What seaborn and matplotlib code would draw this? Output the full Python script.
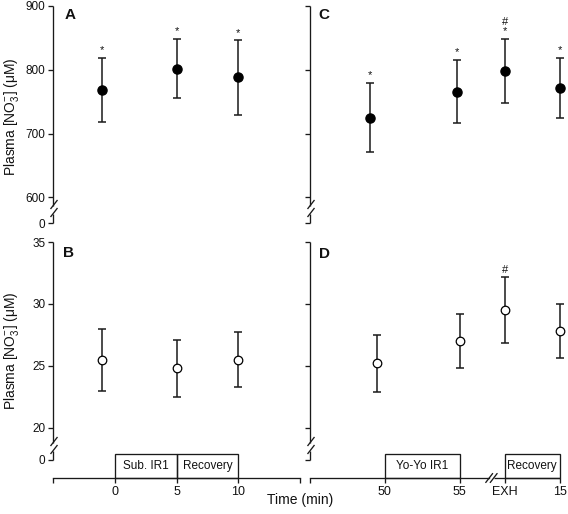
import matplotlib
matplotlib.use('Agg')
import matplotlib.pyplot as plt
import seaborn as sns
from matplotlib.patches import Rectangle

# values (mean +/- SD)
pre_time = [-1, 5, 10]
a_mean = [768, 802, 788]
a_sd = [50, 46, 58]
a_sig = ['*', '*', '*']
b_mean = [25.5, 24.8, 25.5]
b_sd = [2.5, 2.3, 2.2]
b_sig = ['', '', '']

c_time = [49.0, 54.8, 58.0, 61.7]
c_mean = [725, 766, 798, 772]
c_sd = [54, 50, 50, 47]
c_sig = ['*', '*', '#\n*', '*']
d_time = [49.5, 55.0, 58.0, 61.7]
d_mean = [25.2, 27.0, 29.5, 27.8]
d_sd = [2.3, 2.2, 2.65, 2.2]
d_sig = ['', '', '#', '']

left_ticks = [0, 5, 10]
left_ticklabels = ['0', '5', '10']
right_ticks = [50, 55, 58.0, 61.7]
right_ticklabels = ['50', '55', 'EXH', '15']
left_phases = [('Sub. IR1', 0, 5), ('Recovery', 5, 10)]
right_phases = [('Yo-Yo IR1', 50, 55), ('Recovery', 58.0, 61.7)]

top_ticks = [560, 600, 700, 800, 900]
top_ticklabels = ['0', '600', '700', '800', '900']
bot_ticks = [17.4, 20, 25, 30, 35]
bot_ticklabels = ['0', '20', '25', '30', '35']

sns.set_style('ticks')
plt.rcParams['font.family'] = ['Liberation Sans', 'DejaVu Sans']

W, H = 568, 514
LINE = '#1a1a1a'
LW = 0.95

fig = plt.figure(figsize=(W / 100, H / 100), dpi=100)


def px_axes(l, t, r, b):
    ax = fig.add_axes([l / W, 1 - b / H, (r - l) / W, (b - t) / H])
    ax.set_facecolor('none')
    return ax, r - l, b - t


def style_panel(ax, w, h, xlim, ylim, ticks, labels):
    ax.set_xlim(xlim)
    ax.set_ylim(ylim)
    ax.set_yticks(ticks)
    ax.set_yticklabels(labels)
    ax.set_xticks([])
    for s in ['top', 'right', 'bottom', 'left']:
        ax.spines[s].set_visible(False)
    ax.tick_params(axis='y', direction='out', length=3.5, width=LW, color=LINE,
                   labelsize=8.5, pad=2, labelcolor='#111')
    # broken y spine
    kw = dict(transform=ax.transAxes, color=LINE, lw=LW, clip_on=False, solid_capstyle='butt')
    ax.plot([0, 0], [0, 9.2 / h], **kw)
    ax.plot([0, 0], [17.2 / h, 1], **kw)
    for y0 in (6, 14):
        ax.plot([-2.5 / w, 4.5 / w], [y0 / h, (y0 + 9) / h], **kw)


def draw_points(ax, x, mean, sd, sig, filled):
    ax.errorbar(x, mean, yerr=sd, fmt='none', ecolor=LINE, elinewidth=1.1,
                capsize=3, capthick=1.1, zorder=3, clip_on=False)
    sns.scatterplot(x=x, y=mean, ax=ax, s=44 if filled else 38,
                    color='black' if filled else 'white', edgecolor='black',
                    linewidth=0.9, zorder=4, clip_on=False, legend=False)
    for xi, m, e, t in zip(x, mean, sd, sig):
        if t:
            ax.annotate(t, (xi, m + e), xytext=(0, 2), textcoords='offset points',
                        ha='center', va='bottom', fontsize=8, linespacing=0.95,
                        color='#111')


def style_strip(ax, xlim, ticks, labels, minor, phases):
    ax.set_xlim(xlim)
    ax.set_ylim(0, 1)
    ax.set_yticks([])
    for s in ['top', 'right', 'left']:
        ax.spines[s].set_visible(False)
    ax.spines['bottom'].set_color(LINE)
    ax.spines['bottom'].set_linewidth(LW)
    ax.set_xticks(ticks)
    ax.set_xticklabels(labels)
    ax.set_xticks(minor, minor=True)
    ax.tick_params(axis='x', which='both', direction='out', length=3.5, width=LW,
                   color=LINE, labelsize=9, pad=2, labelcolor='#111')
    for name, x0, x1 in phases:
        ax.add_patch(Rectangle((x0, 0), x1 - x0, 1, fill=False, ec=LINE, lw=LW, clip_on=False))
        ax.text((x0 + x1) / 2, 0.5, name, ha='center', va='center', fontsize=8.5, color='#111')


left_xlim = (-5, 15)
right_xlim = (45, 61.7)

# panel A
axA, w, h = px_axes(53, 6, 300, 223)
style_panel(axA, w, h, left_xlim, (560, 900), top_ticks, top_ticklabels)
draw_points(axA, pre_time, a_mean, a_sd, a_sig, True)

# panel B
axB, w, h = px_axes(53, 242, 300, 460)
style_panel(axB, w, h, left_xlim, (17.4, 35), bot_ticks, bot_ticklabels)
draw_points(axB, pre_time, b_mean, b_sd, b_sig, False)

# panel C
axC, w, h = px_axes(310, 6, 560, 223)
style_panel(axC, w, h, right_xlim, (560, 900), top_ticks, [''] * len(top_ticks))
draw_points(axC, c_time, c_mean, c_sd, c_sig, True)

# panel D
axD, w, h = px_axes(310, 242, 560, 460)
style_panel(axD, w, h, right_xlim, (17.4, 35), bot_ticks, [''] * len(bot_ticks))
draw_points(axD, d_time, d_mean, d_sd, d_sig, False)

# time axes with exercise phases
axL, w, h = px_axes(53, 454, 300, 478)
style_strip(axL, left_xlim, left_ticks, left_ticklabels, [-5, 15], left_phases)

axR, w, h = px_axes(310, 454, 560, 478)
style_strip(axR, right_xlim, right_ticks, right_ticklabels, [45], right_phases)
axR.spines['bottom'].set_bounds(45, 56.95)
tr = axR.get_xaxis_transform()
axR.plot([57.3, 61.7], [0, 0], transform=tr, color=LINE, lw=LW, clip_on=False,
         solid_capstyle='butt')
for xc in (56.97, 57.27):
    axR.plot([xc - 0.23, xc + 0.23], [-4.5 / h, 4.5 / h], transform=tr, color=LINE,
             lw=LW, clip_on=False)

# labels
for txt, x, y in [('A', 70, 15), ('B', 69, 253), ('C', 324, 15), ('D', 325, 254)]:
    fig.text(x / W, 1 - y / H, txt, ha='center', va='center', fontsize=11,
             fontweight='bold', color='#111')

for yc in (117, 351):
    fig.text(12 / W, 1 - yc / H, 'Plasma [NO$\\mathregular{_3^{-}}$] (μM)', rotation=90,
             ha='center', va='center', fontsize=10, color='#111')
fig.text(300 / W, 1 - 500 / H, 'Time (min)', ha='center', va='center', fontsize=10,
         color='#111')

fig.savefig('out.png', dpi=100)
